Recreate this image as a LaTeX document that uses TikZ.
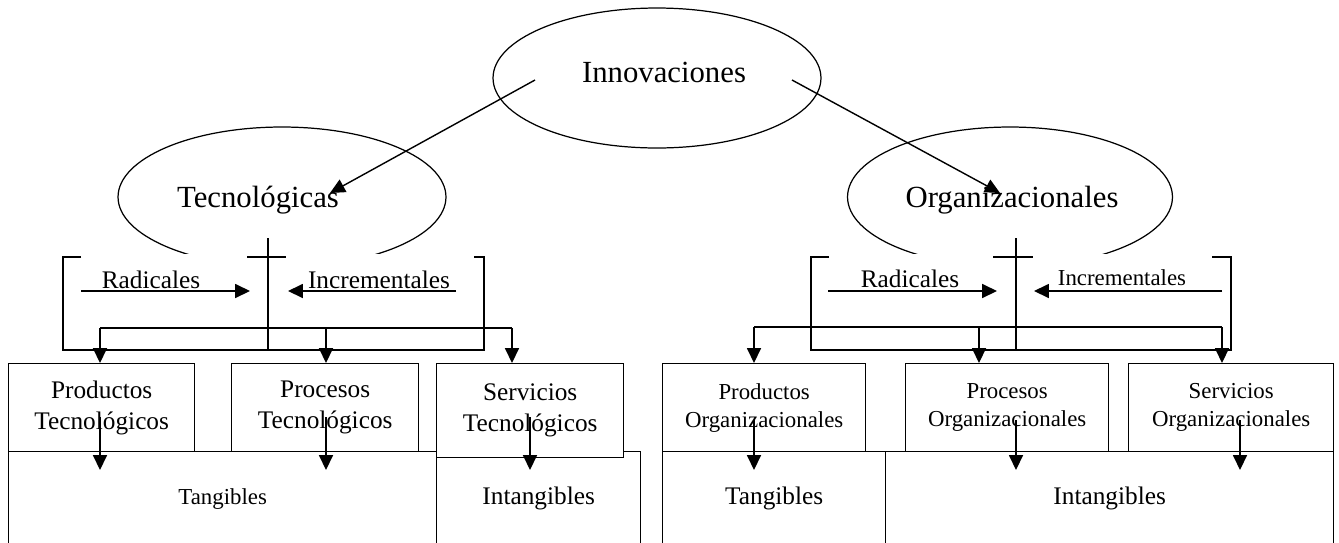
\documentclass[tikz,border=0pt]{standalone}
\usepackage{fontspec}
\setmainfont{Liberation Serif}
\usetikzlibrary{shapes.geometric,arrows.meta}

\newcommand{\fsBig}{\fontsize{17.5}{21}\selectfont}
\newcommand{\fsMid}{\fontsize{14.4}{17.6}\selectfont}
\newcommand{\fsSmall}{\fontsize{13}{16}\selectfont}

\begin{document}
\begin{tikzpicture}[x=0.02cm, y=-0.02cm, line width=0.8pt,
	arr/.style={-{Triangle[length=8.5pt,width=8pt]}},
	oval/.style={draw=black, shape=ellipse, minimum width=6.56cm,
				 minimum height=2.8cm, inner sep=0pt, line width=0.7pt},
	title/.style={anchor=base, font=\fsBig},
	lbl/.style={anchor=base, font=\fsMid},
	cell/.style={draw=black, shape=rectangle, fill=white, inner sep=0pt,
				 anchor=north west, align=center, font=\fsMid}]

	\useasboundingbox (0,0) rectangle (1339,542);
	\clip (0,0) rectangle (1339,542);

	% ellipses
	\draw (657,78) node[oval] (innov) {};
	\draw (664,82) node[title] (innovTxt) {Innovaciones};

	\draw (282,197) node[oval] (tec) {};
	\draw (258,207) node[title] (tecTxt) {Tecnológicas};

	\draw (1010,197) node[oval, minimum width=6.5cm] (org) {};
	\draw (1012,207) node[title] (orgTxt) {Organizacionales};

	\coordinate (innovL) at (535,80);
	\coordinate (innovR) at (792,80);
	\coordinate (tecIn) at (330,193);
	\coordinate (orgIn) at (1000,193);
	\draw[arr] (innovL) -- (tecIn);
	\draw[arr] (innovR) -- (orgIn);

	% bracket under Tecnologicas
	\fill[white] (64,254) rectangle (483,300);
	\draw (81,257) -- (63,257) -- (63,350) -- (484,350) -- (484,257) -- (474,257);
	\draw (247,257) -- (286,257);
	\draw (268,238) -- (268,350);

	\draw (151,288) node[lbl] (radTec) {Radicales};
	\draw (379,288) node[lbl] (incTec) {Incrementales};
	\coordinate (radTecA) at (81,291);
	\coordinate (radTecB) at (250,291);
	\coordinate (incTecA) at (456,291);
	\coordinate (incTecB) at (288,291);
	\draw[arr] (radTecA) -- (radTecB);
	\draw[arr] (incTecA) -- (incTecB);

	% bracket under Organizacionales
	\fill[white] (812,254) rectangle (1230,300);
	\draw (829,257) -- (811,257) -- (811,350) -- (1231,350) -- (1231,257) -- (1212,257);
	\draw (993,257) -- (1033,257);
	\draw (1016,238) -- (1016,350);

	\draw (910,287) node[lbl] (radOrg) {Radicales};
	\draw (1122,285) node[lbl, font=\fsSmall] (incOrg) {Incrementales};
	\coordinate (radOrgA) at (828,291);
	\coordinate (radOrgB) at (997,291);
	\coordinate (incOrgA) at (1222,291);
	\coordinate (incOrgB) at (1034,291);
	\draw[arr] (radOrgA) -- (radOrgB);
	\draw[arr] (incOrgA) -- (incOrgB);

	% lower boxes
	\draw (8,451) node[cell, font=\fsSmall, minimum width=8.56cm,
					   minimum height=1.88cm] (tangTec) {Tangibles};
	\draw (436,451) node[cell, minimum width=4.08cm,
						 minimum height=1.88cm] (intTec) {Intangibles};
	\draw (662,451) node[cell, minimum width=4.46cm,
						 minimum height=1.88cm] (tangOrg) {Tangibles};
	\draw (885,451) node[cell, minimum width=8.96cm,
						 minimum height=1.88cm] (intOrg) {Intangibles};

	% upper boxes
	\draw (8,363) node[cell, minimum width=3.72cm,
					   minimum height=1.76cm] (prodTec) {Productos\\Tecnológicos};
	\draw (231,363) node[cell, minimum width=3.74cm,
						 minimum height=1.76cm] (procTec) {Procesos\\Tecnológicos};
	\draw (436,363) node[cell, minimum width=3.74cm,
						 minimum height=1.88cm] (servTec) {Servicios\\Tecnológicos};

	\draw (662,363) node[cell, font=\fsSmall, minimum width=4.06cm,
						 minimum height=1.76cm] (prodOrg) {Productos\\Organizacionales};
	\draw (905,363) node[cell, font=\fsSmall, minimum width=4.06cm,
						 minimum height=1.76cm] (procOrg) {Procesos\\Organizacionales};
	\draw (1128,363) node[cell, font=\fsSmall, minimum width=4.1cm,
						  minimum height=1.76cm] (servOrg) {Servicios\\Organizacionales};

	% distribution lines
	\coordinate (dTecA) at (100,328);
	\coordinate (dTecB) at (326,328);
	\coordinate (dTecC) at (512,328);
	\draw (dTecA) -- (dTecC);
	\draw[arr] (dTecA) -- (dTecA |- prodTec.north);
	\draw[arr] (dTecB) -- (dTecB |- procTec.north);
	\draw[arr] (dTecC) -- (dTecC |- servTec.north);

	\coordinate (dOrgA) at (754,327);
	\coordinate (dOrgB) at (979,327);
	\coordinate (dOrgC) at (1222,327);
	\draw (dOrgA) -- (dOrgC);
	\draw[arr] (dOrgA) -- (dOrgA |- prodOrg.north);
	\draw[arr] (dOrgB) -- (dOrgB |- procOrg.north);
	\draw[arr] (dOrgC) -- (dOrgC |- servOrg.north);

	% from upper to lower boxes
	\coordinate (prodTecS) at (100,417);
	\coordinate (procTecS) at (326,417);
	\coordinate (servTecS) at (530,417);
	\draw[arr] (prodTecS) -- (prodTecS |- 0,470);
	\draw[arr] (procTecS) -- (procTecS |- 0,470);
	\draw[arr] (servTecS) -- (servTecS |- 0,470);

	\coordinate (prodOrgS) at (754,420);
	\coordinate (procOrgS) at (1016,420);
	\coordinate (servOrgS) at (1240,420);
	\draw[arr] (prodOrgS) -- (prodOrgS |- 0,470);
	\draw[arr] (procOrgS) -- (procOrgS |- 0,470);
	\draw[arr] (servOrgS) -- (servOrgS |- 0,470);
\end{tikzpicture}
\end{document}
